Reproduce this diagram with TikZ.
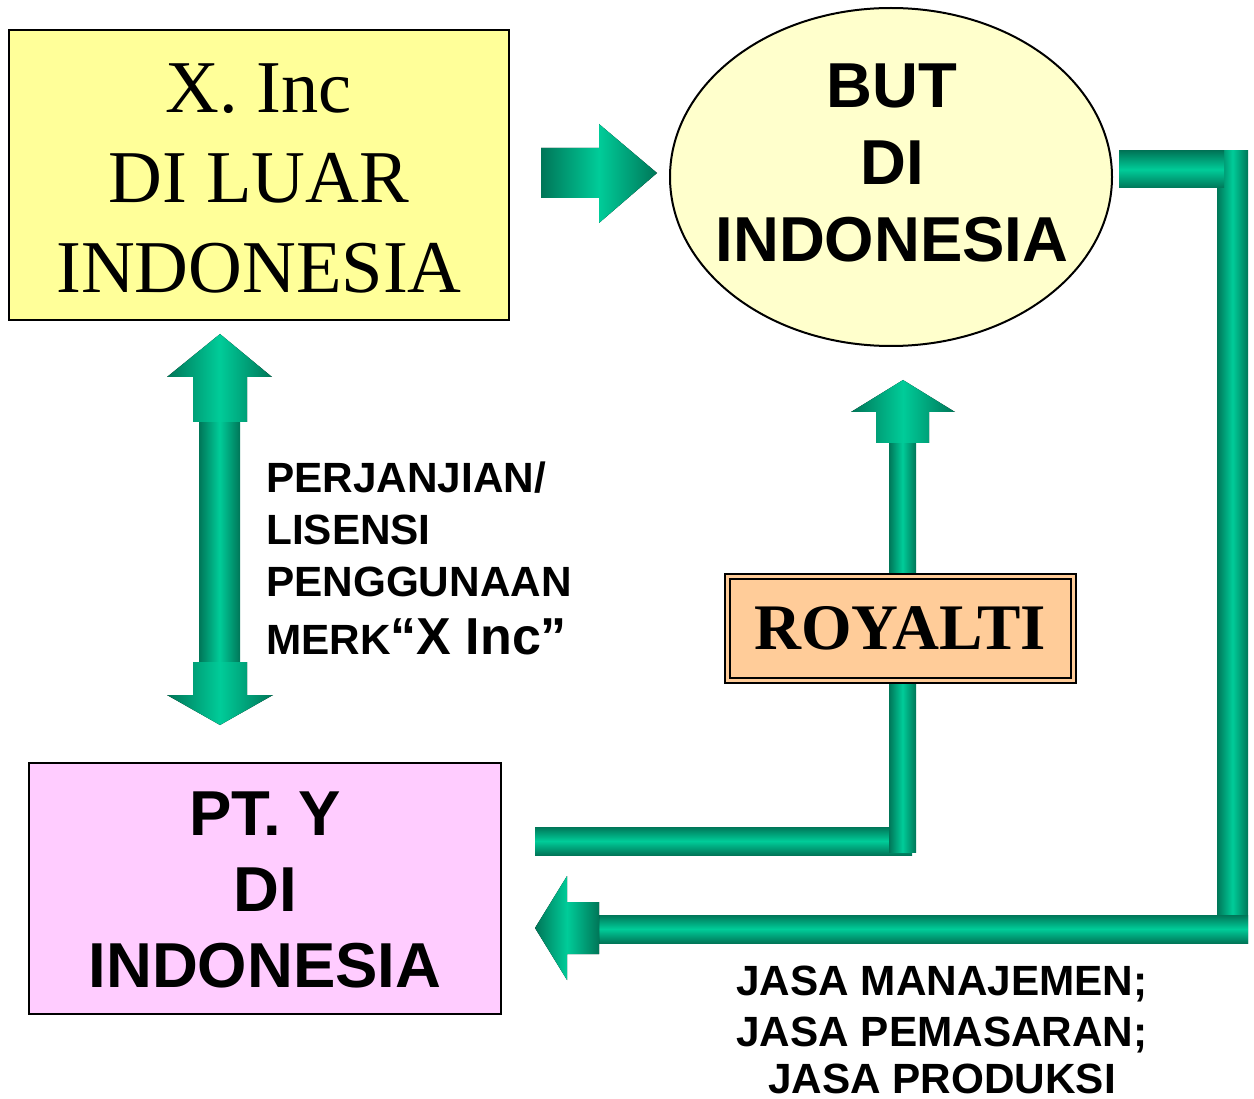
\documentclass[tikz,border=0pt]{standalone}
\usepackage{fontspec}
\setmainfont{Liberation Sans}
\newfontfamily\tnr{Liberation Serif}
\usetikzlibrary{shapes.geometric}
\definecolor{tdark}{RGB}{0,118,88}
\definecolor{tlight}{RGB}{0,204,153}
\definecolor{boxyellow}{HTML}{FFFF99}
\definecolor{ellyellow}{HTML}{FFFFCC}
\definecolor{boxpink}{HTML}{FFCCFF}
\definecolor{boxpeach}{HTML}{FFCC99}
\begin{document}
\begin{tikzpicture}[x=1pt,y=-1pt,
  hbar/.style={top color=tdark,bottom color=tdark,middle color=tlight},
  vbar/.style={left color=tdark,right color=tdark,middle color=tlight},
  frame/.style={draw=black,line width=2pt,inner sep=0pt},
  sanslbl/.style={font=\bfseries\fontsize{42.3}{50}\selectfont,inner sep=0pt}]
\useasboundingbox (0,0) rectangle (1254,1099);
% boxes
\node[frame,fill=boxyellow,minimum width=500pt,minimum height=290pt] (xinc) at (259,175) {};
\node[align=center,font=\tnr\fontsize{74.5}{90}\selectfont,inner sep=0pt] (xinct) at (259,178.5) {X. Inc\\DI LUAR\\INDONESIA};
\node[frame,ellipse,fill=ellyellow,minimum width=442pt,minimum height=338pt] (but) at (891,177) {};
\node[align=center,font=\bfseries\fontsize{63.5}{77}\selectfont,inner sep=0pt] (butt) at (892,162.5) {BUT\\DI\\INDONESIA};
\node[frame,fill=boxpink,minimum width=472pt,minimum height=251pt] (pty) at (265,888.5) {};
\node[align=center,font=\bfseries\fontsize{63.5}{76}\selectfont,inner sep=0pt] (ptyt) at (265,890) {PT. Y\\DI\\INDONESIA};
% right arrow X Inc -> BUT
\fill[vbar] (541,148) -- (599,148) -- (599,124) -- (657,173) -- (599,223) -- (599,198) -- (541,198) -- cycle;
% left double arrow
\fill[vbar] (199,420) rectangle (240,664);
\fill[vbar] (220,334) -- (272,377) -- (247,377) -- (247,422) -- (193,422) -- (193,377) -- (167,377) -- cycle;
\fill[vbar] (193,662) -- (247,662) -- (247,695) -- (273,695) -- (220,725) -- (167,695) -- (193,695) -- cycle;
% royalty up arrow
\fill[vbar] (889,438) rectangle (916,578);
\fill[vbar] (903,380) -- (955,412) -- (929,412) -- (929,443) -- (876,443) -- (876,412) -- (851,412) -- cycle;
% royalty lower connector
\fill[hbar] (535,827) rectangle (912,855);
\fill[vbar] (889,680) rectangle (916,852);
% right connector BUT -> PT Y
\fill[vbar] (1217,151) rectangle (1248,943);
\fill[hbar] (1119,151) rectangle (1224,188);
\fill[hbar] (598,915) rectangle (1248,943);
\fill[vbar] (535,928) -- (567,876) -- (567,902) -- (599,902) -- (599,954) -- (567,954) -- (567,980) -- cycle;
% royalty box
\node[draw=black,line width=2pt,double=boxpeach,double distance=3pt,fill=boxpeach,minimum width=346pt,minimum height=104pt,inner sep=0pt,font=\tnr\bfseries\fontsize{65}{78}\selectfont] (roy) at (900,628) {ROYALTI};
% labels
\node[sanslbl,anchor=base west] (l1) at (266,493) {PERJANJIAN/};
\node[sanslbl,anchor=base west] (l2) at (266,544) {LISENSI};
\node[sanslbl,anchor=base west] (l3) at (266,596) {PENGGUNAAN};
\node[sanslbl,anchor=base west] (l4) at (266,654) {MERK{\fontsize{52}{60}\selectfont“X Inc”}};
\node[sanslbl,anchor=base] (j1) at (942,995) {JASA MANAJEMEN;};
\node[sanslbl,anchor=base] (j2) at (942,1046) {JASA PEMASARAN;};
\node[sanslbl,anchor=base,text depth=0pt] (j3) at (942,1093) {JASA PRODUKSI};
\end{tikzpicture}
\end{document}
